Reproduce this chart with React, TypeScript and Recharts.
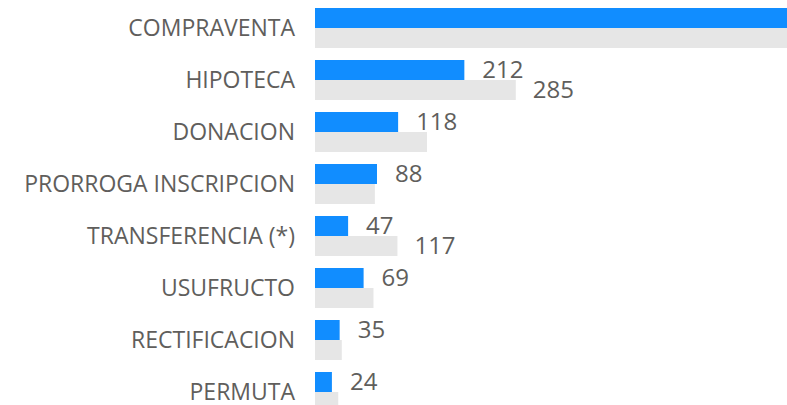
import React from "react";
import { BarChart, Bar, XAxis, YAxis, LabelList } from "recharts";

const categories = [
  "COMPRAVENTA",
  "HIPOTECA",
  "DONACION",
  "PRORROGA INSCRIPCION",
  "TRANSFERENCIA (*)",
  "USUFRUCTO",
  "RECTIFICACION",
  "PERMUTA",
];
const currentValues = [980, 212, 118, 88, 47, 69, 35, 24];
const previousValues = [940, 285, 159, 85, 117, 83, 38, 33];
const previousLabelShown = ["HIPOTECA", "TRANSFERENCIA (*)"];

const data = categories.map((c, i) => ({
  name: c,
  current: currentValues[i],
  previous: previousValues[i],
}));

const TEXT = "#605E5C";
const FONT = "'Open Sans', 'Noto Sans', sans-serif";
const CHART_W = 787;

const ValueLabel = (props: any) => {
  const { x, y, width, height, value, index, gap, onlyFor } = props;
  if (onlyFor && !onlyFor.includes(categories[index])) return null;
  const lx = x + width + gap;
  if (lx + 10 > CHART_W) return null;
  return (
    <text
      x={lx}
      y={y + height / 2}
      dy="0.35em"
      fill={TEXT}
      fontSize={24}
      fontFamily={FONT}
    >
      {value}
    </text>
  );
};

export default function App() {
  return (
    <div
      style={{
        position: "fixed",
        left: 0,
        top: 0,
        width: 787,
        height: 405,
        overflow: "hidden",
        background: "#fff",
      }}
    >
      <BarChart
        width={CHART_W}
        height={420}
        data={data}
        layout="vertical"
        margin={{ top: 2, right: 0, bottom: 2, left: 0 }}
        barGap={0}
        barSize={20}
      >
        <XAxis type="number" hide domain={[0, 670]} allowDataOverflow />
        <YAxis
          type="category"
          dataKey="name"
          width={315}
          axisLine={false}
          tickLine={false}
          tickSize={0}
          tickMargin={20}
          interval={0}
          tick={{ fill: TEXT, fontSize: 23, fontFamily: FONT }}
        />
        <Bar dataKey="current" fill="#118DFF" isAnimationActive={false}>
          <LabelList dataKey="current" content={<ValueLabel gap={18} />} />
        </Bar>
        <Bar dataKey="previous" fill="#E6E6E6" isAnimationActive={false}>
          <LabelList
            dataKey="previous"
            content={<ValueLabel gap={17} onlyFor={previousLabelShown} />}
          />
        </Bar>
      </BarChart>
    </div>
  );
}
